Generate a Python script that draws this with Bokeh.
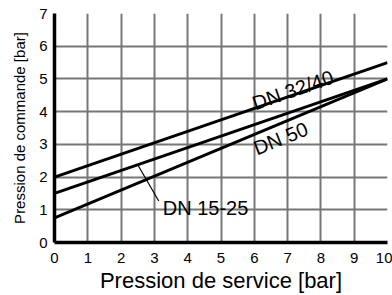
import math
from bokeh.plotting import figure
from bokeh.models import Range1d, FixedTicker, ColumnDataSource
from bokeh.core.properties import value
from bokeh.embed import file_html
from bokeh.resources import INLINE

# ---- data ----
x_ends = [0, 10]
dn_32_40 = [2.0, 5.5]
dn_15_25 = [1.5, 5.0]
dn_50 = [0.75, 5.0]
x_ticks = [0, 1, 2, 3, 4, 5, 6, 7, 8, 9, 10]
y_ticks = [0, 1, 2, 3, 4, 5, 6, 7]
series_labels = ["DN 32/40", "DN 50", "DN 15-25"]

FONT = "Liberation Sans"

p = figure(width=392, height=295, output_backend="svg", toolbar_location=None,
           x_range=Range1d(0, 10), y_range=Range1d(0, 7),
           min_border_left=54, min_border_right=5, min_border_top=13, min_border_bottom=51)
p.outline_line_color = None
p.background_fill_color = "white"
p.border_fill_color = "white"

for ax, ticks in ((p.xaxis[0], x_ticks), (p.yaxis[0], y_ticks)):
    ax.ticker = FixedTicker(ticks=ticks)
    ax.major_tick_line_color = None
    ax.minor_tick_line_color = None
    ax.major_tick_out = 0
    ax.major_tick_in = 0
    ax.minor_tick_out = 0
    ax.minor_tick_in = 0
    ax.axis_line_color = "black"
    ax.axis_line_width = 3.5
    ax.major_label_text_font = FONT
    ax.major_label_text_font_size = "15px"
    ax.major_label_text_color = "black"
    ax.axis_label_text_font = FONT
    ax.axis_label_text_font_style = "normal"
    ax.axis_label_text_color = "black"

p.xaxis.axis_label = "Pression de service [bar]"
p.xaxis.axis_label_text_font_size = "22px"
p.xaxis.major_label_standoff = 10
p.xaxis.axis_label_standoff = 2
p.yaxis.axis_label = "Pression de commande [bar]"
p.yaxis.axis_label_text_font_size = "15px"
p.yaxis.major_label_standoff = 7
p.yaxis.axis_label_standoff = 8

p.xgrid.ticker = FixedTicker(ticks=x_ticks)
p.ygrid.ticker = FixedTicker(ticks=y_ticks)
for g in (p.xgrid[0], p.ygrid[0]):
    g.grid_line_color = "#777777"
    g.grid_line_width = 2
    g.grid_line_alpha = 1.0

for ys in (dn_32_40, dn_15_25, dn_50):
    p.line(x_ends, ys, line_color="black", line_width=3)

def slope(ys):
    return (ys[1] - ys[0]) / (x_ends[1] - x_ends[0])

def at(ys, x):
    return ys[0] + slope(ys) * x

# screen-space angle of a line (px per unit ~ 33.3 in x, 33.0 in y)
def ang(ys):
    return math.atan(slope(ys) * 33.0 / 33.3)

# annotation positions
lab_x = [5.96, 6.0, 3.25]
lab_y = [at(dn_32_40, 5.96) + 0.15, 2.86, 1.06]
lab_a = [ang(dn_32_40), ang(dn_50) - 0.02, 0.0]

src = ColumnDataSource(dict(x=lab_x, y=lab_y, t=series_labels, a=lab_a))
p.text(x="x", y="y", text="t", angle="a", source=src, text_font=value(FONT),
       text_font_size="20px", text_color="black", text_align="left",
       text_baseline="alphabetic")

# leader line for DN 15-25
lead_x = [2.5, 3.13]
lead_y = [at(dn_15_25, 2.5), 1.27]
p.line(lead_x, lead_y, line_color="black", line_width=1.2)

open("out.html", "w").write(file_html(p, INLINE))
